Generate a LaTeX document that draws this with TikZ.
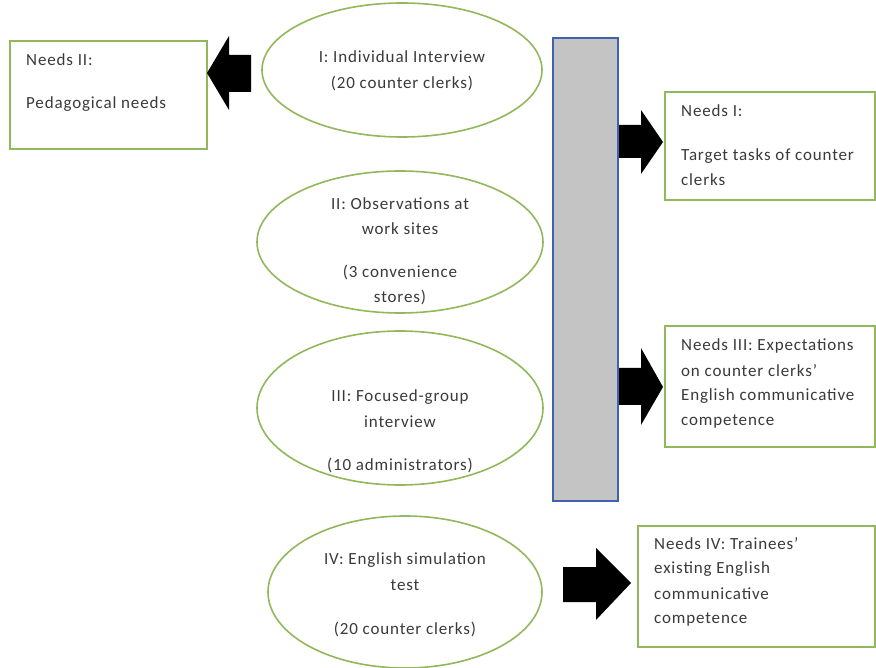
\documentclass[tikz,border=0pt]{standalone}
\usepackage{fontspec}
\setmainfont{Carlito}[LetterSpace=5]
\usetikzlibrary{shapes.geometric}
\definecolor{gborder}{HTML}{92B85C}
\definecolor{btext}{HTML}{3A3A3A}
\definecolor{barfill}{HTML}{C4C4C4}
\definecolor{barline}{HTML}{4060B0}
\tikzset{
  needbox/.style={draw=gborder, line width=1.6pt, fill=white},
  oval/.style={draw=gborder, line width=1.6pt, ellipse, inner sep=0pt},
  lbl/.style={text=btext, font=\fontsize{17}{20}\selectfont, inner sep=0pt, anchor=west},
  clbl/.style={text=btext, font=\fontsize{17}{20}\selectfont, inner sep=0pt, anchor=center},
  blockarrow/.style={fill=black, draw=none}
}
\begin{document}
\begin{tikzpicture}[x=1pt,y=-1pt]
\useasboundingbox (0,0) rectangle (876,668);
\fill[white] (0,0) rectangle (876,668);

% Needs II box
\draw[needbox] (10,41) rectangle (207,149);
\node[lbl] (n2a) at (26,60) {Needs II:};
\node[lbl] (n2b) at (26,104) {Pedagogical needs};

% left arrow
\fill[blockarrow] (207,73) -- (229,36) -- (229,55) -- (251,55) -- (251,92) -- (229,92) -- (229,110) -- cycle;

% ellipses
\node[oval, minimum width=280pt, minimum height=134pt] (e1) at (402,70) {};
\node[clbl] (e1a) at (402,57) {I: Individual Interview};
\node[clbl] (e1b) at (402,83) {(20 counter clerks)};

\node[oval, minimum width=286pt, minimum height=142pt] (e2) at (400,242) {};
\node[clbl] (e2a) at (400,204) {II: Observations at};
\node[clbl] (e2b) at (400,229) {work sites};
\node[clbl] (e2c) at (400,272) {(3 convenience};
\node[clbl] (e2d) at (400,297) {stores)};

\node[oval, minimum width=286pt, minimum height=154pt] (e3) at (400,408) {};
\node[clbl] (e3a) at (400,397) {III: Focused-group};
\node[clbl] (e3b) at (400,422) {interview};
\node[clbl] (e3c) at (400,465) {(10 administrators)};

\node[oval, minimum width=274pt, minimum height=152pt] (e4) at (405,592) {};
\node[clbl] (e4a) at (405,560) {IV: English simulation};
\node[clbl] (e4b) at (405,585) {test};
\node[clbl] (e4c) at (405,629) {(20 counter clerks)};

% gray bar
\draw[fill=barfill, draw=barline, line width=1.4pt] (553,38) rectangle (618,501);

% right arrows
\fill[blockarrow] (619,125) -- (641,125) -- (641,110) -- (663,142) -- (641,174) -- (641,158) -- (619,158) -- cycle;
\fill[blockarrow] (619,368) -- (641,368) -- (641,348) -- (663,387) -- (641,425) -- (641,405) -- (619,405) -- cycle;
\fill[blockarrow] (563,567) -- (596,567) -- (596,548) -- (631,583) -- (596,620) -- (596,602) -- (563,602) -- cycle;

% Needs I box
\draw[needbox] (665,92) rectangle (875,200);
\node[lbl] (n1a) at (681,111) {Needs I:};
\node[lbl] (n1b) at (681,156) {Target tasks of counter};
\node[lbl] (n1c) at (681,180) {clerks};

% Needs III box
\draw[needbox] (665,326) rectangle (875,447);
\node[lbl] (n3a) at (681,346) {Needs III: Expectations};
\node[lbl] (n3b) at (681,371) {on counter clerks’};
\node[lbl] (n3c) at (681,396) {English communicative};
\node[lbl] (n3d) at (681,421) {competence};

% Needs IV box
\draw[needbox] (638,526) rectangle (875,647);
\node[lbl] (n4a) at (654,544) {Needs IV: Trainees’};
\node[lbl] (n4b) at (654,569) {existing English};
\node[lbl] (n4c) at (654,594) {communicative};
\node[lbl] (n4d) at (654,619) {competence};
\end{tikzpicture}
\end{document}
